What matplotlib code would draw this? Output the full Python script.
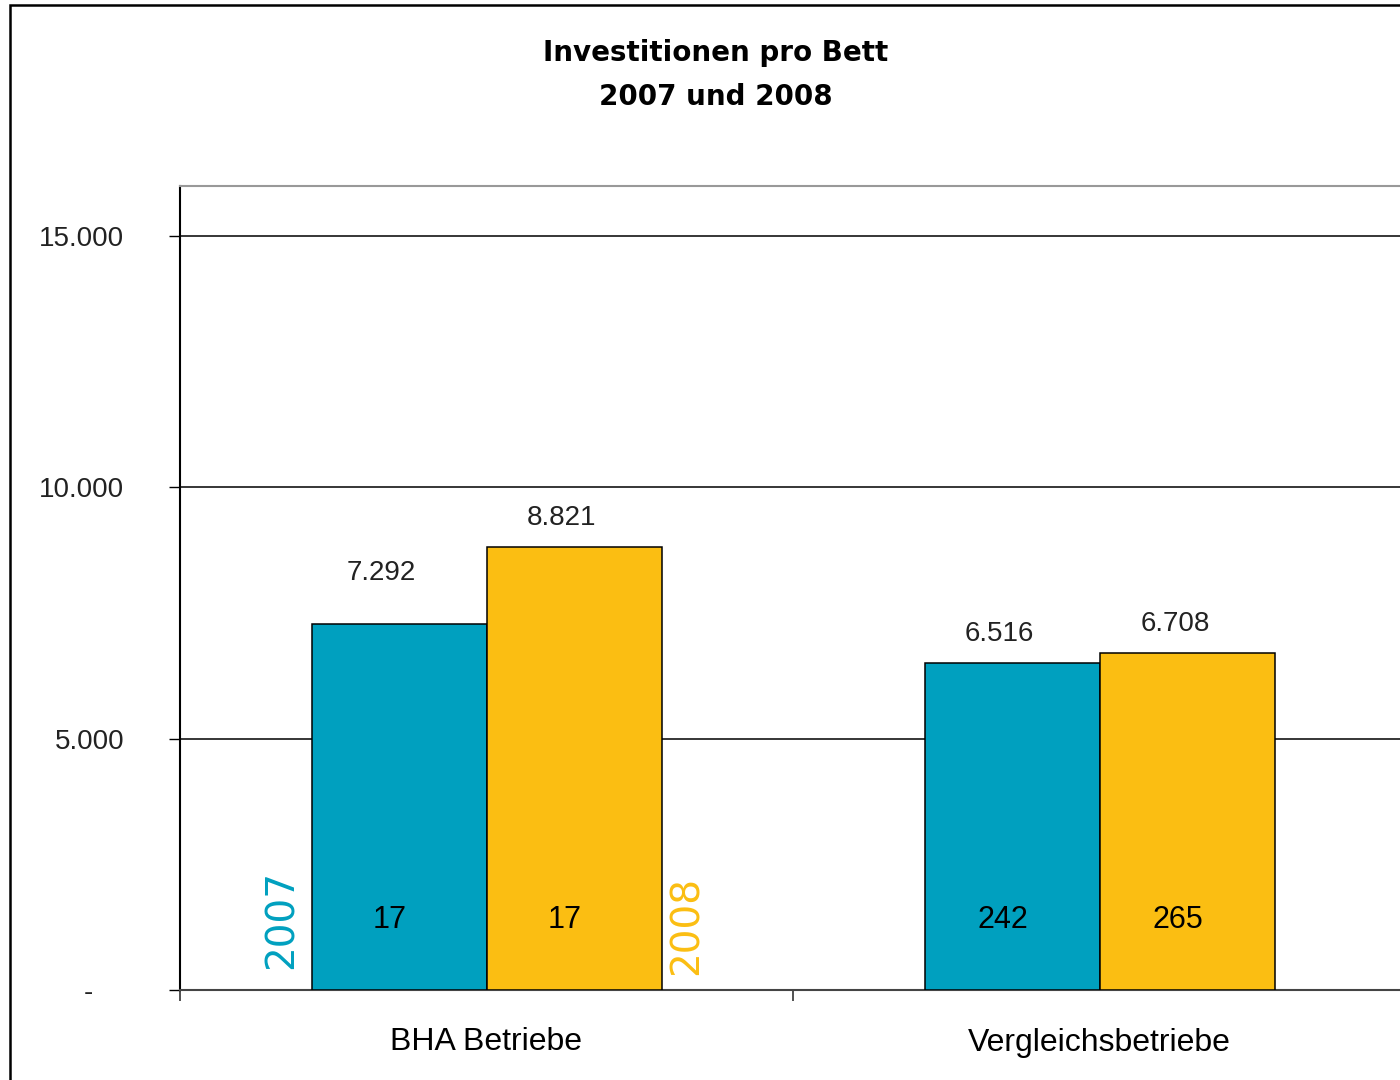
import numpy as np
import matplotlib.pyplot as plt
from matplotlib.patches import Rectangle
from matplotlib.ticker import FixedLocator

# data
categories = ["BHA Betriebe", "Vergleichsbetriebe"]
years = ["2007", "2008"]
invest_2007 = [7292, 6516]
invest_2008 = [8821, 6708]
count_2007 = [17, 242]
count_2008 = [17, 265]
yticks = [0, 5000, 10000, 15000]
ytick_labels = ["-    ", "5.000", "10.000", "15.000"]

col_2007 = "#00A0BF"
col_2008 = "#FBBE12"

def fmt(v):
	return "{:,}".format(v).replace(",", ".")

plt.rcParams['font.family'] = ['Liberation Sans', 'DejaVu Sans']

fig = plt.figure(figsize=(14, 10.8), dpi=100)
# outer frame (cropped on right and bottom like the source)
fig.patches.append(Rectangle((10/1400, -0.05), 1.2, 1 - 5/1080 + 0.05, transform=fig.transFigure,
	fill=False, edgecolor="black", lw=1.8, zorder=0))

ax = fig.add_axes([180/1400, 1 - 990/1080, 1226/1400, (990 - 186)/1080])

x = np.arange(len(categories))
w = 175/613
b1 = ax.bar(x - w/2, invest_2007, w, color=col_2007, edgecolor="black", lw=1.1, zorder=3)
b2 = ax.bar(x + w/2, invest_2008, w, color=col_2008, edgecolor="black", lw=1.1, zorder=3)

ax.set_ylim(0, 16000)
ax.set_xlim(-0.5, 1.5)
ax.set_yticks(yticks)
ax.set_yticklabels(ytick_labels, fontsize=20, color="#222222")
ax.yaxis.grid(True, color="black", lw=1.1, zorder=0)
ax.set_axisbelow(True)
ax.tick_params(axis="y", length=8, width=1, pad=32)

ax.xaxis.set_major_locator(FixedLocator([-0.5, 0.5, 1.5]))
ax.xaxis.set_minor_locator(FixedLocator(list(x)))
ax.set_xticklabels([], minor=False)
ax.set_xticklabels(categories, minor=True, fontsize=23)
ax.tick_params(axis="x", which="major", length=8, width=1.2, color="#333333")
ax.tick_params(axis="x", which="minor", length=0, pad=27)

ax.spines["left"].set_color("black")
ax.spines["left"].set_linewidth(1.5)
ax.spines["top"].set_color("#999999")
ax.spines["top"].set_linewidth(1.5)
ax.spines["bottom"].set_color("#444444")
ax.spines["bottom"].set_linewidth(1.5)
ax.spines["right"].set_visible(False)

# value labels above bars (offsets in px as in source)
offs = [[(-18, 38), (-13, 16)], [(-13, 16), (-12, 16)]]
for i in range(len(categories)):
	for j, (vals, xs) in enumerate([(invest_2007, x - w/2), (invest_2008, x + w/2)]):
		dx, dy = offs[i][j]
		ax.annotate(fmt(vals[i]), (xs[i], vals[i]), xytext=(dx*0.72, dy*0.72),
			textcoords="offset points", ha="center", va="bottom", fontsize=20, color="#222222")

# counts inside bars
label_y = 1400
for i in range(len(categories)):
	ax.text(x[i] - w/2 - 0.015, label_y, str(count_2007[i]), ha="center", va="center", fontsize=22, zorder=4)
	ax.text(x[i] + w/2 - 0.015, label_y, str(count_2008[i]), ha="center", va="center", fontsize=22, zorder=4)

# year tags beside the first group
ax.annotate(years[0], (x[0] - w, label_y), xytext=(-30*0.72, 0),
	textcoords="offset points", ha="center", va="center", rotation=90,
	fontsize=28, color=col_2007, family="DejaVu Sans")
ax.annotate(years[1], (x[0] + w, label_y), xytext=(25*0.72, -4),
	textcoords="offset points", ha="center", va="center", rotation=90,
	fontsize=28, color=col_2008, family="DejaVu Sans")

fig.text(716/1400, 1 - 53/1080, "Investitionen pro Bett", ha="center", va="center",
	fontsize=20, fontweight="bold", family="DejaVu Sans")
fig.text(716/1400, 1 - 97/1080, "2007 und 2008", ha="center", va="center",
	fontsize=20, fontweight="bold", family="DejaVu Sans")

fig.savefig("out.png", dpi=100)
